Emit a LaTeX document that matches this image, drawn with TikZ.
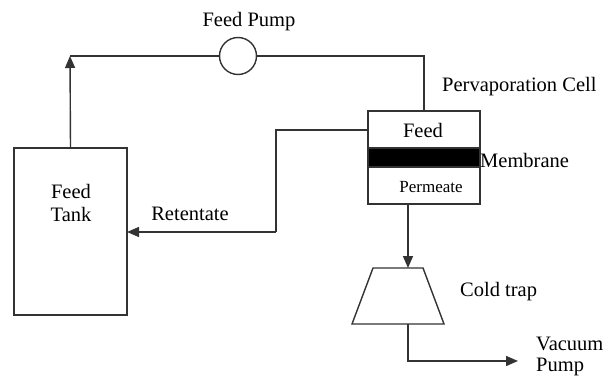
\documentclass[tikz,border=0pt]{standalone}
\usepackage{fontspec}
\setmainfont{Liberation Serif}
\usetikzlibrary{arrows.meta}
\begin{document}
\begin{tikzpicture}[x=1pt,y=-1pt,
  line/.style={line width=1.4pt,draw=black!80},
  arr/.style={line,-{Triangle[length=12pt,width=10pt]}},
  lbl/.style={font=\fontsize{20.5}{23}\selectfont,inner sep=0pt},
  box/.style={line,rectangle,inner sep=0pt,outer sep=0pt}]
\useasboundingbox (0,0) rectangle (605,377);
% tank
\node[box,minimum width=113pt,minimum height=167pt] (tank) at (70.5,231.5) {};
\node[lbl,align=center] (tanklbl) at (71,203) {Feed\\Tank};
% pump
\node[line,circle,minimum size=37pt,inner sep=0pt,outer sep=0pt] (pump) at (238,56) {};
\node[lbl] (pumplbl) at (249,22) {Feed Pump};
% cell
\node[box,minimum width=112pt,minimum height=93pt] (cell) at (424,157.5) {};
\node[box,fill=black,minimum width=112pt,minimum height=19pt] (mem) at (424,157.5) {};
\node[lbl] (feedlbl) at (423,130) {Feed};
\node[lbl,font=\fontsize{17}{19}\selectfont] (permlbl) at (431,187) {Permeate};
\node[lbl,anchor=west] (memlbl) at (480,160) {Membrane};
\node[lbl,anchor=west] (celllbl) at (442,87) {Pervaporation Cell};
\node[lbl] (retlbl) at (190,214) {Retentate};
% trap
\coordinate (tnw) at (373,268);
\coordinate (tne) at (423,268);
\coordinate (tse) at (444,324);
\coordinate (tsw) at (352,324);
\draw[line,line join=miter] (tnw) -- (tne) -- (tse) -- (tsw) -- cycle;
\node[lbl,anchor=west] (traplbl) at (460,292) {Cold trap};
\node[lbl,anchor=west,align=left,font=\fontsize{20.5}{21}\selectfont] (vaclbl) at (536,356) {Vacuum\\Pump};
% connectors
\coordinate (tl) at (70,56);
\coordinate (retout) at (368,130);
\coordinate (rb) at (276,232);
\coordinate (pdown) at (408,204);
\coordinate (pin) at (408,268);
\coordinate (tout) at (408,324);
\coordinate (vend) at (518,361);
\draw[arr] (tank.north) -- (tl);
\draw[line] (tl) -- (pump.west);
\draw[line] (pump.east) -| (cell.north);
\draw[line] (retout) -| (rb);
\draw[arr] (rb) -- (tank.east |- rb);
\draw[arr] (pdown) -- (pin);
\draw[arr] (tout) |- (vend);
\end{tikzpicture}
\end{document}
